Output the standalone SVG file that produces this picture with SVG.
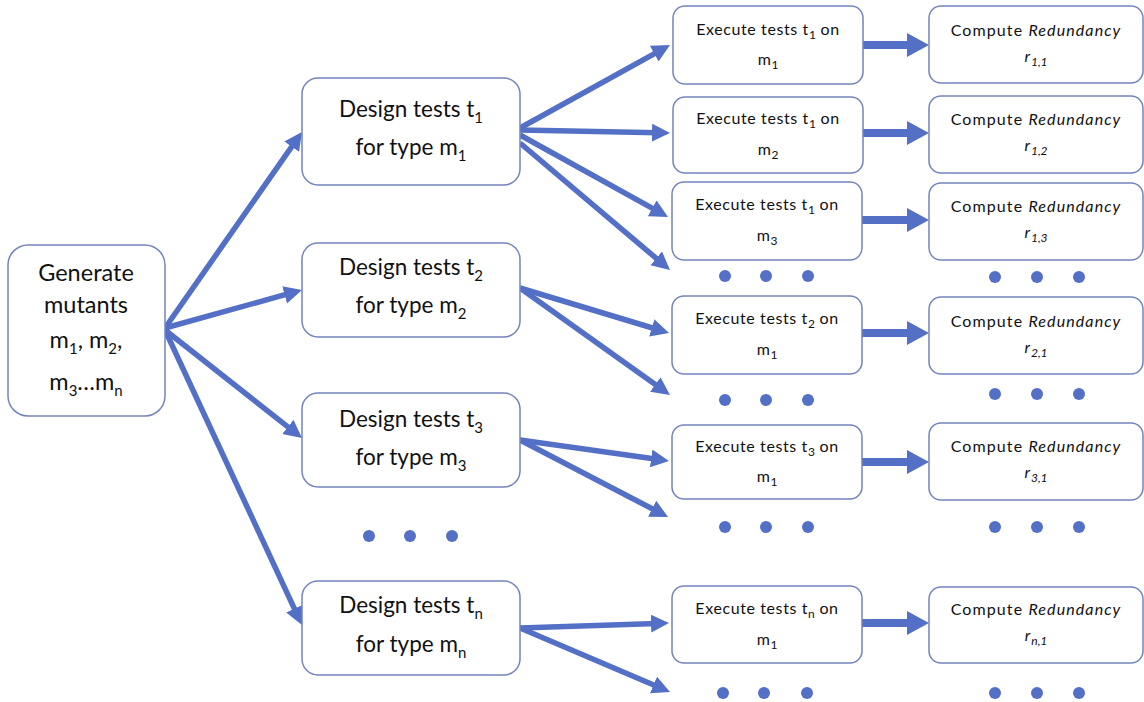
<svg xmlns="http://www.w3.org/2000/svg" width="1144" height="702" viewBox="0 0 1144 702">
<defs>
<style>
.box{fill:#fff;stroke:#7384bd;stroke-width:1.5}
.t{font-family:Lato,"Noto Sans","Liberation Sans",sans-serif;fill:#111;text-anchor:middle}
.g{font-size:23.5px}
.d{font-size:22.5px}
.e{font-size:16px;letter-spacing:0.6px}
.c{font-size:16px;letter-spacing:1.1px}
.sub{font-size:12px;letter-spacing:0}
.subd{font-size:15px}
.a{stroke:#5470c6;stroke-width:5.5;fill:none}
.b{stroke:#5470c6;stroke-width:8;fill:none}
.dot{fill:#5470c6}
</style>
<marker id="ah" markerUnits="userSpaceOnUse" markerWidth="20" markerHeight="20" refX="6" refY="9" orient="auto" viewBox="0 0 20 20">
<path d="M0,0 L18,9 L0,18 z" fill="#5470c6"/>
</marker>
<marker id="bh" markerUnits="userSpaceOnUse" markerWidth="24" markerHeight="26" refX="5" refY="12" orient="auto" viewBox="0 0 24 26">
<path d="M0,0 L22,12 L0,24 z" fill="#5470c6"/>
</marker>
</defs>
<rect width="1144" height="702" fill="#fff"/>

<g id="connectors">
<line class="a" x1="165" y1="328" x2="295.1" y2="141.8" marker-end="url(#ah)"/>
<line class="a" x1="165" y1="328" x2="290.4" y2="293.2" marker-end="url(#ah)"/>
<line class="a" x1="165" y1="330" x2="292.6" y2="430.6" marker-end="url(#ah)"/>
<line class="a" x1="165" y1="330" x2="296.9" y2="614.1" marker-end="url(#ah)"/>
<line class="a" x1="520" y1="128" x2="659.5" y2="50.8" marker-end="url(#ah)"/>
<line class="a" x1="520" y1="130" x2="658" y2="132.8" marker-end="url(#ah)"/>
<line class="a" x1="520" y1="135" x2="657.5" y2="211.2" marker-end="url(#ah)"/>
<line class="a" x1="520" y1="143" x2="660.8" y2="262.2" marker-end="url(#ah)"/>
<line class="a" x1="520" y1="288" x2="657.5" y2="329.5" marker-end="url(#ah)"/>
<line class="a" x1="520" y1="288" x2="660.2" y2="388" marker-end="url(#ah)"/>
<line class="a" x1="520" y1="440" x2="657.1" y2="459.3" marker-end="url(#ah)"/>
<line class="a" x1="520" y1="440" x2="657.4" y2="511.5" marker-end="url(#ah)"/>
<line class="a" x1="520" y1="628" x2="657" y2="623.4" marker-end="url(#ah)"/>
<line class="a" x1="520" y1="628" x2="659" y2="687.3" marker-end="url(#ah)"/>
<line class="b" x1="863" y1="45" x2="912" y2="45" marker-end="url(#bh)"/>
<line class="b" x1="863" y1="133" x2="912" y2="133" marker-end="url(#bh)"/>
<line class="b" x1="862" y1="220" x2="912" y2="220" marker-end="url(#bh)"/>
<line class="b" x1="862" y1="333" x2="912" y2="333" marker-end="url(#bh)"/>
<line class="b" x1="862" y1="462" x2="912" y2="462" marker-end="url(#bh)"/>
<line class="b" x1="862" y1="623" x2="912" y2="623" marker-end="url(#bh)"/>
</g>

<g id="gen">
<rect class="box" x="8" y="245" width="157" height="171" rx="20"/>
<text class="t g" x="86" y="281">Generate</text>
<text class="t g" x="86" y="313">mutants</text>
<text class="t g" x="86" y="348">m<tspan class="subd" dy="6">1</tspan><tspan dy="-6">, m</tspan><tspan class="subd" dy="6">2</tspan><tspan dy="-6">,</tspan></text>
<text class="t g" x="86" y="390">m<tspan class="subd" dy="6">3</tspan><tspan dy="-6">…m</tspan><tspan class="subd" dy="6">n</tspan></text>
</g>

<g id="design1">
<rect class="box" x="302" y="78" width="218" height="107" rx="16"/>
<text class="t d" x="411" y="117">Design tests t<tspan class="subd" dy="6">1</tspan></text>
<text class="t d" x="411" y="155">for type m<tspan class="subd" dy="6">1</tspan></text>
</g>
<g id="design2">
<rect class="box" x="302" y="243" width="218" height="94" rx="16"/>
<text class="t d" x="411" y="275">Design tests t<tspan class="subd" dy="6">2</tspan></text>
<text class="t d" x="411" y="313">for type m<tspan class="subd" dy="6">2</tspan></text>
</g>
<g id="design3">
<rect class="box" x="302" y="393" width="218" height="94" rx="16"/>
<text class="t d" x="411" y="427">Design tests t<tspan class="subd" dy="6">3</tspan></text>
<text class="t d" x="411" y="465">for type m<tspan class="subd" dy="6">3</tspan></text>
</g>
<g id="designn">
<rect class="box" x="302" y="581" width="218" height="94" rx="16"/>
<text class="t d" x="411" y="613">Design tests t<tspan class="subd" dy="6">n</tspan></text>
<text class="t d" x="411" y="652">for type m<tspan class="subd" dy="6">n</tspan></text>
</g>

<g id="exec1">
<rect class="box" x="673" y="6" width="190" height="78" rx="12"/>
<text class="t e" x="768" y="35">Execute tests t<tspan class="sub" dy="4">1</tspan><tspan dy="-4"> on</tspan></text>
<text class="t e" x="768" y="65">m<tspan class="sub" dy="4">1</tspan></text>
</g>
<g id="exec2">
<rect class="box" x="673" y="97" width="190" height="76" rx="12"/>
<text class="t e" x="768" y="124">Execute tests t<tspan class="sub" dy="4">1</tspan><tspan dy="-4"> on</tspan></text>
<text class="t e" x="768" y="155">m<tspan class="sub" dy="4">2</tspan></text>
</g>
<g id="exec3">
<rect class="box" x="672" y="182" width="190" height="78" rx="12"/>
<text class="t e" x="767" y="210">Execute tests t<tspan class="sub" dy="4">1</tspan><tspan dy="-4"> on</tspan></text>
<text class="t e" x="767" y="241">m<tspan class="sub" dy="4">3</tspan></text>
</g>
<g id="exec4">
<rect class="box" x="672" y="296" width="190" height="78" rx="12"/>
<text class="t e" x="767" y="324">Execute tests t<tspan class="sub" dy="4">2</tspan><tspan dy="-4"> on</tspan></text>
<text class="t e" x="767" y="355">m<tspan class="sub" dy="4">1</tspan></text>
</g>
<g id="exec5">
<rect class="box" x="672" y="425" width="190" height="74" rx="12"/>
<text class="t e" x="767" y="452">Execute tests t<tspan class="sub" dy="4">3</tspan><tspan dy="-4"> on</tspan></text>
<text class="t e" x="767" y="482">m<tspan class="sub" dy="4">1</tspan></text>
</g>
<g id="execn">
<rect class="box" x="672" y="586" width="190" height="77" rx="12"/>
<text class="t e" x="767" y="614">Execute tests t<tspan class="sub" dy="4">n</tspan><tspan dy="-4"> on</tspan></text>
<text class="t e" x="767" y="645">m<tspan class="sub" dy="4">1</tspan></text>
</g>

<g id="comp1">
<rect class="box" x="929" y="6" width="214" height="77" rx="12"/>
<text class="t c" x="1036" y="36">Compute <tspan font-style="italic">Redundancy</tspan></text>
<text class="t c" x="1036" y="62" font-style="italic">r<tspan class="sub" dy="4">1,1</tspan></text>
</g>
<g id="comp2">
<rect class="box" x="929" y="96" width="214" height="77" rx="12"/>
<text class="t c" x="1036" y="125">Compute <tspan font-style="italic">Redundancy</tspan></text>
<text class="t c" x="1036" y="151" font-style="italic">r<tspan class="sub" dy="4">1,2</tspan></text>
</g>
<g id="comp3">
<rect class="box" x="929" y="183" width="214" height="77" rx="12"/>
<text class="t c" x="1036" y="212">Compute <tspan font-style="italic">Redundancy</tspan></text>
<text class="t c" x="1036" y="238" font-style="italic">r<tspan class="sub" dy="4">1,3</tspan></text>
</g>
<g id="comp4">
<rect class="box" x="929" y="297" width="214" height="77" rx="12"/>
<text class="t c" x="1036" y="327">Compute <tspan font-style="italic">Redundancy</tspan></text>
<text class="t c" x="1036" y="353" font-style="italic">r<tspan class="sub" dy="4">2,1</tspan></text>
</g>
<g id="comp5">
<rect class="box" x="929" y="423" width="214" height="77" rx="12"/>
<text class="t c" x="1036" y="452">Compute <tspan font-style="italic">Redundancy</tspan></text>
<text class="t c" x="1036" y="478" font-style="italic">r<tspan class="sub" dy="4">3,1</tspan></text>
</g>
<g id="compn">
<rect class="box" x="929" y="587" width="214" height="76" rx="12"/>
<text class="t c" x="1036" y="615">Compute <tspan font-style="italic">Redundancy</tspan></text>
<text class="t c" x="1036" y="641" font-style="italic">r<tspan class="sub" dy="4">n,1</tspan></text>
</g>

<g id="ellipses">
<circle class="dot" cx="369" cy="536" r="6"/><circle class="dot" cx="410" cy="536" r="6"/><circle class="dot" cx="452" cy="536" r="6"/>
<circle class="dot" cx="725" cy="276" r="6"/><circle class="dot" cx="766" cy="276" r="6"/><circle class="dot" cx="808" cy="276" r="6"/>
<circle class="dot" cx="995" cy="277" r="6"/><circle class="dot" cx="1037" cy="277" r="6"/><circle class="dot" cx="1079" cy="277" r="6"/>
<circle class="dot" cx="725" cy="400" r="6"/><circle class="dot" cx="766" cy="400" r="6"/><circle class="dot" cx="808" cy="400" r="6"/>
<circle class="dot" cx="995" cy="394" r="6"/><circle class="dot" cx="1037" cy="394" r="6"/><circle class="dot" cx="1079" cy="394" r="6"/>
<circle class="dot" cx="725" cy="527" r="6"/><circle class="dot" cx="766" cy="527" r="6"/><circle class="dot" cx="808" cy="527" r="6"/>
<circle class="dot" cx="995" cy="527" r="6"/><circle class="dot" cx="1037" cy="527" r="6"/><circle class="dot" cx="1079" cy="527" r="6"/>
<circle class="dot" cx="723" cy="693" r="6"/><circle class="dot" cx="764" cy="693" r="6"/><circle class="dot" cx="807" cy="693" r="6"/>
<circle class="dot" cx="995" cy="693" r="6"/><circle class="dot" cx="1037" cy="693" r="6"/><circle class="dot" cx="1079" cy="693" r="6"/>
</g>
</svg>
